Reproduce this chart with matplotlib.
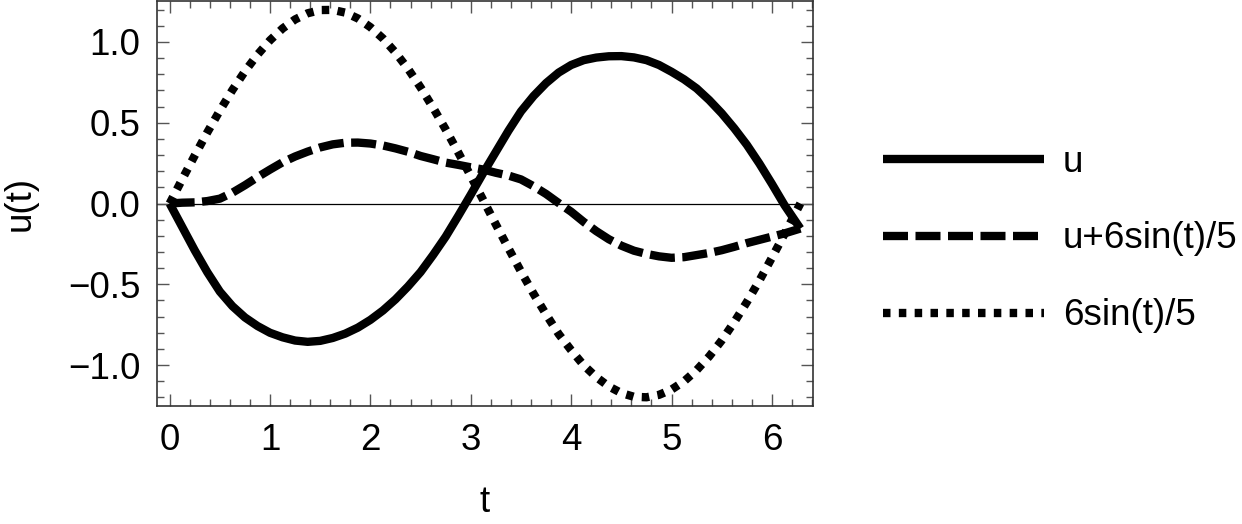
import matplotlib
matplotlib.use("Agg")
import matplotlib.pyplot as plt
from matplotlib.ticker import MultipleLocator, FuncFormatter

plt.rcParams['font.family'] = ['Liberation Sans', 'DejaVu Sans']

t = [0.0, 0.125, 0.25, 0.375, 0.5, 0.625, 0.75, 0.875, 1.0, 1.125, 1.25, 1.375,
     1.5, 1.625, 1.75, 1.875, 2.0, 2.125, 2.25, 2.375, 2.5, 2.625, 2.75, 2.875,
     3.0, 3.125, 3.25, 3.375, 3.5, 3.625, 3.75, 3.875, 4.0, 4.125, 4.25, 4.375,
     4.5, 4.625, 4.75, 4.875, 5.0, 5.125, 5.25, 5.375, 5.5, 5.625, 5.75, 5.875,
     6.0, 6.125, 6.283]
u = [0.0, -0.145, -0.29, -0.425, -0.545, -0.635, -0.705, -0.758, -0.80, -0.828,
     -0.848, -0.856, -0.850, -0.832, -0.805, -0.768, -0.72, -0.662, -0.593,
     -0.513, -0.424, -0.318, -0.205, -0.077, 0.055, 0.19, 0.32, 0.45, 0.57,
     0.665, 0.745, 0.81, 0.857, 0.887, 0.903, 0.911, 0.912, 0.904, 0.887, 0.857,
     0.815, 0.768, 0.712, 0.640, 0.558, 0.465, 0.363, 0.247, 0.121, -0.01, -0.155]
u_plus = [0.0, 0.005, 0.007, 0.015, 0.03, 0.067, 0.113, 0.163, 0.21, 0.255,
          0.291, 0.321, 0.347, 0.366, 0.376, 0.377, 0.371, 0.359, 0.341, 0.32,
          0.294, 0.274, 0.253, 0.239, 0.224, 0.21, 0.19, 0.173, 0.149, 0.107,
          0.059, 0.003, -0.051, -0.114, -0.171, -0.221, -0.261, -0.292, -0.312,
          -0.327, -0.336, -0.332, -0.319, -0.306, -0.289, -0.268, -0.245, -0.225,
          -0.205, -0.185, -0.155]
six_sin = [0.0, 0.150, 0.297, 0.440, 0.575, 0.702, 0.818, 0.921, 1.010, 1.083,
           1.139, 1.177, 1.197, 1.198, 1.181, 1.145, 1.091, 1.021, 0.934, 0.833,
           0.718, 0.592, 0.458, 0.316, 0.169, 0.020, -0.130, -0.277, -0.421,
           -0.558, -0.686, -0.807, -0.908, -1.001, -1.074, -1.132, -1.173, -1.196,
           -1.199, -1.184, -1.151, -1.100, -1.031, -0.946, -0.847, -0.733, -0.610,
           -0.477, -0.335, -0.189, 0.0]
labels = ["u", "u+6sin(t)/5", "6sin(t)/5"]

fig = plt.figure(figsize=(12.42, 5.24), dpi=100)
ax = fig.add_axes([157/1242, 1 - 406/524, (813-157)/1242, 405/524])

lw = 6.0
ax.axhline(0, color='black', lw=0.9, zorder=1)
ax.plot(t, u, color='black', lw=lw, solid_capstyle='butt', solid_joinstyle='round',
        label=labels[0], zorder=3)
ax.plot(t, u_plus, color='black', lw=lw, linestyle=(0, (3.0, 0.9)),
        dash_capstyle='butt', label=labels[1], zorder=3)
ax.plot(t, six_sin, color='black', lw=lw, linestyle=(0, (0.9, 1.0)),
        dash_capstyle='butt', label=labels[2], zorder=3)

ax.set_xlim(-0.126, 6.409)
ax.set_ylim(-1.253, 1.253)

ax.xaxis.set_major_locator(MultipleLocator(1))
ax.xaxis.set_minor_locator(MultipleLocator(0.2))
ax.yaxis.set_major_locator(MultipleLocator(0.5))
ax.yaxis.set_minor_locator(MultipleLocator(0.1))
ax.yaxis.set_major_formatter(FuncFormatter(lambda v, p: ('%.1f' % v).replace('-', '\u2212')))

framec = '#333333'
for s in ax.spines.values():
    s.set_color(framec)
    s.set_linewidth(1.2)
ax.tick_params(which='both', direction='in', top=True, right=True,
               color='#555555', width=1.0, labelsize=26.5, labelcolor='black')
ax.tick_params(which='major', length=8.5, pad=12)
ax.tick_params(which='minor', length=5)

ax.set_xlabel('t', fontsize=26.5, labelpad=20)
ax.set_ylabel('u(t)', fontsize=26.5, labelpad=22)

leg = fig.legend(loc='center left', bbox_to_anchor=(868/1242, 1 - 239/524),
                 frameon=False, fontsize=26.5, handlelength=4.37,
                 handletextpad=0.52, labelspacing=1.14, borderaxespad=0)

fig.savefig('out.png', dpi=100)
